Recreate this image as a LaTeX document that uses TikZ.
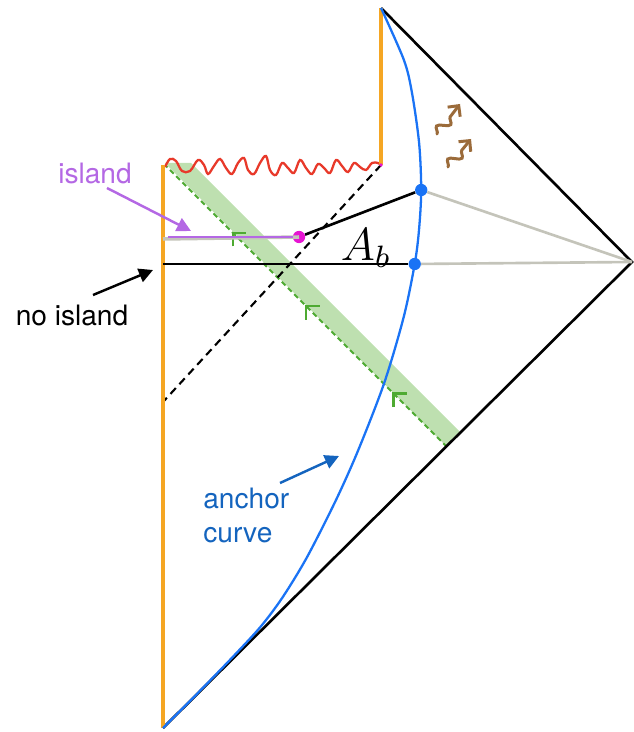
\documentclass[tikz,border=0pt]{standalone}
\usepackage{fontspec}
\setsansfont{TeX Gyre Heros}
\usetikzlibrary{arrows.meta,decorations.pathmorphing,decorations.markings}

\definecolor{bdyorange}{HTML}{F5A623}
\definecolor{singred}{HTML}{E8392A}
\definecolor{anchorblue}{HTML}{1A73F5}
\definecolor{labelblue}{HTML}{1464BE}
\definecolor{bandgreen}{HTML}{BEE0B0}
\definecolor{raygreen}{HTML}{4EAA32}
\definecolor{rtgray}{HTML}{C4C4BA}
\definecolor{islpurple}{HTML}{B468E4}
\definecolor{islmagenta}{HTML}{E614D2}
\definecolor{hawkbrown}{HTML}{9B6B3A}

\begin{document}
\begin{tikzpicture}[
  x=0.02cm, y=-0.02cm,
  font=\sffamily\fontsize{16}{19}\selectfont,
  every node/.style={align=left, inner sep=0pt},
  edge/.style={black, line width=1.5pt},
  bdy/.style={bdyorange, line width=2pt},
  rt/.style={rtgray, line width=1.5pt},
  anchorc/.style={anchorblue, line width=1.3pt},
  dot/.style={circle, fill=anchorblue, minimum size=7pt},
  lightray/.style={black, line width=1.2pt, dash pattern=on 4.5pt off 3pt},
  chevron/.style={solid, raygreen, line width=1.3pt},
  greenray/.style={raygreen, line width=1.1pt, dash pattern=on 3pt off 2pt,
    postaction={decorate, decoration={markings,
      mark=at position 0.19 with {\draw[chevron] (-5.5pt,5.5pt) -- (0,0) -- (-5.5pt,-5.5pt);},
      mark=at position 0.50 with {\draw[chevron] (-5.5pt,5.5pt) -- (0,0) -- (-5.5pt,-5.5pt);},
      mark=at position 0.76 with {\draw[chevron] (-5.5pt,5.5pt) -- (0,0) -- (-5.5pt,-5.5pt);}}}},
  hawking/.style={hawkbrown, line width=1.7pt, line cap=round,
    decorate, decoration={snake, segment length=11pt, amplitude=3pt, post length=5pt},
    -{Straight Barb[length=4.5pt,width=9pt]}},
  lblarr/.style={line width=1.4pt, -{Triangle[length=8pt,width=8pt]}}
]
\useasboundingbox (0,0) rectangle (633,732);

% corners of the diagram
\coordinate (T) at (381,8);
\coordinate (R) at (632,262);
\coordinate (B) at (163,728);
\coordinate (Sl) at (163,165);
\coordinate (Sr) at (381,165);
\coordinate (Dl) at (163,402);

% green band with the infalling ray
\fill[bandgreen] (165,163) -- (191,163) -- (461,433) -- (447,447) -- cycle;
\draw[greenray] (447,447) -- (165,165);

% light cone edges
\draw[edge] (T) -- (R) -- (B);
\draw[lightray] (Sr) -- (Dl);

% singularity
\draw[singred, line width=1.3pt] plot[smooth, tension=0.6] coordinates {
  (165,167) (170,159) (176,161) (182,171) (190,171) (198,160) (204,165)
  (208,174) (214,166) (220,159) (226,168) (232,174) (238,163) (244,158)
  (248,170) (254,174) (260,163) (266,156) (270,170) (276,175) (282,163)
  (288,168) (294,173) (300,160) (306,168) (312,174) (318,164) (324,168)
  (330,173) (336,160) (342,166) (348,172) (354,163) (360,167) (366,170)
  (372,163) (378,163) (381,165)};

% orange boundaries
\draw[bdy] (T) -- (Sr);
\draw[bdy] (Sl) -- (B);
\fill[islmagenta] (Sr) circle (1.8);

% anchor curve
\draw[anchorc] plot[smooth, tension=0.5] coordinates {
  (381,8) (403.9,60) (412,93) (419.1,143) (421.2,190) (419,230)
  (414.7,264) (403.7,317) (384.2,383) (358.3,450) (336,500)
  (307.1,557) (282.8,597) (261.2,626) (236.5,653) (202.8,688) (163,728)};
\node[dot] (P1) at (421.2,190) {};
\node[dot] (P2) at (414.7,264) {};

% island surface
\coordinate (I0) at (163,239);
\coordinate (I1) at (168,237);
\node[circle, fill=islmagenta, minimum size=7pt] (Isl) at (299,237) {};
\draw[rtgray, line width=2pt] (I0) -- (Isl.center);
\draw[islpurple, line width=1.6pt] (I1) -- (Isl);
\draw[edge] (Isl) -- (P1);
\draw[rt] (P1) -- (R);

% no-island surface
\coordinate (N0) at (163,264);
\draw[edge] (N0) -- (P2);
\draw[rt] (P2) -- (R);
\node[font=\fontsize{12}{14}\selectfont] (Ab) at (366,248) {\scalebox{2.2}{$A_b$}};

% Hawking quanta
\draw[hawking] (437,134) -- (460,104);
\draw[hawking] (448,167) -- (471,139);

% labels
\node[text=islpurple] (islandlbl) at (95,173) {island};
\coordinate (islA) at (107,188);
\coordinate (islB) at (191,231);
\draw[lblarr, islpurple] (islA) -- (islB);

\node (noislandlbl) at (72,315) {no island};
\coordinate (noA) at (93,295);
\coordinate (noB) at (153,270);
\draw[lblarr, black] (noA) -- (noB);

\node[text=labelblue, anchor=north west, align=left] (anchorlbl) at (203,488) {anchor\\curve};
\coordinate (anA) at (280,483);
\coordinate (anB) at (339,456);
\draw[lblarr, labelblue] (anA) -- (anB);

\end{tikzpicture}
\end{document}
